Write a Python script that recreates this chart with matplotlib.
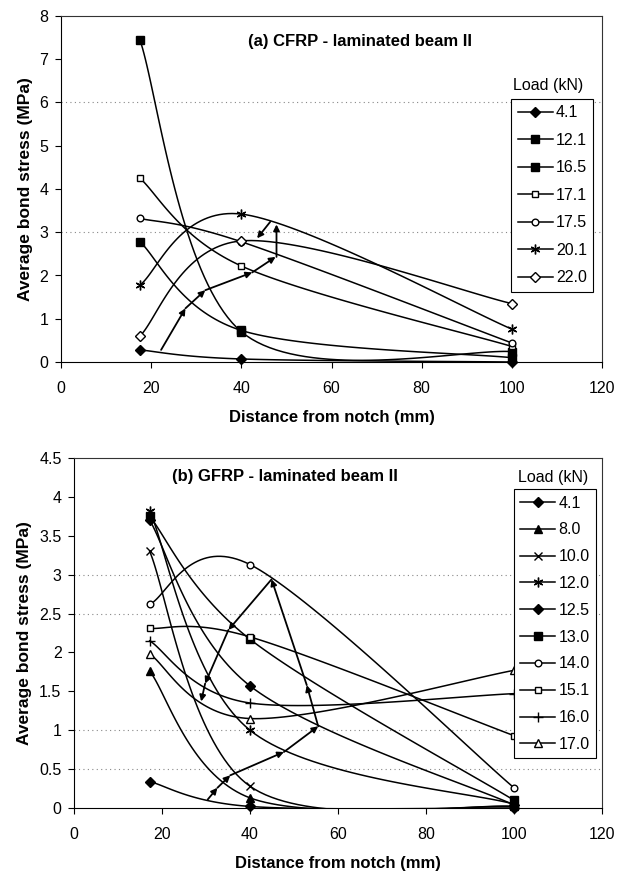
import numpy as np
import matplotlib
matplotlib.use('Agg')
import matplotlib.pyplot as plt
from matplotlib.lines import Line2D
from matplotlib.ticker import FuncFormatter, MultipleLocator

plt.rcParams['font.family'] = ['Liberation Sans', 'DejaVu Sans']

# ---------------- data: (a) CFRP ----------------
dist_a = [17.5, 40, 100]
loads_a = ['4.1', '12.1', '16.5', '17.1', '17.5', '20.1', '22.0']
a_4_1 = [0.28, 0.07, 0.00]
a_12_1 = [2.78, 0.73, 0.10]
a_16_5 = [7.45, 0.70, 0.24]
a_17_1 = [4.25, 2.22, 0.36]
a_17_5 = [3.32, 2.78, 0.44]
a_20_1 = [1.78, 3.42, 0.76]
a_22_0 = [0.60, 2.80, 1.35]
series_a = [a_4_1, a_12_1, a_16_5, a_17_1, a_17_5, a_20_1, a_22_0]

# trend arrows (a)
arrow_a_x = [22.2, 27.6, 32.0, 42.4, 47.6]
arrow_a_y = [0.28, 1.24, 1.66, 2.07, 2.43]
arrow_a_up_x = [47.8, 47.8]
arrow_a_up_y = [2.43, 3.18]
arrow_a_back_x = [46.4, 43.5]
arrow_a_back_y = [3.24, 2.86]

# ---------------- data: (b) GFRP ----------------
dist_b = [17.2, 40, 100]
loads_b = ['4.1', '8.0', '10.0', '12.0', '12.5', '13.0', '14.0', '15.1', '16.0', '17.0']
b_4_1 = [0.34, 0.02, 0.00]
b_8_0 = [1.76, 0.13, 0.02]
b_10_0 = [3.30, 0.28, 0.02]
b_12_0 = [3.82, 1.00, 0.05]
b_12_5 = [3.70, 1.57, 0.04]
b_13_0 = [3.75, 2.17, 0.10]
b_14_0 = [2.62, 3.13, 0.26]
b_15_1 = [2.31, 2.20, 0.93]
b_16_0 = [2.15, 1.35, 1.47]
b_17_0 = [1.98, 1.15, 1.77]
series_b = [b_4_1, b_8_0, b_10_0, b_12_0, b_12_5, b_13_0, b_14_0, b_15_1, b_16_0, b_17_0]

# trend arrows (b)
arrow_b_x = [30.4, 32.6, 35.5, 47.7, 55.5, 52.9, 44.9, 35.1, 29.8, 28.9]
arrow_b_y = [0.11, 0.26, 0.42, 0.72, 1.05, 1.58, 2.94, 2.29, 1.60, 1.37]

# ---------------- styles ----------------
ast = (6, 2, 0)
style_a = [('D', 'k', 5), ('s', 'k', 5.5), ('s', 'k', 5.5), ('s', 'w', 5),
           ('o', 'w', 4.8), (ast, 'k', 7), ('D', 'w', 5)]
style_b = [('D', 'k', 5), ('^', 'k', 6), ('x', 'k', 6), (ast, 'k', 7),
           ('D', 'k', 5), ('s', 'k', 5.5), ('o', 'w', 4.8), ('s', 'w', 5),
           ('+', 'k', 7), ('^', 'w', 6)]


def excel_smooth(x, y, n=40):
    P = np.column_stack([np.asarray(x, float), np.asarray(y, float)])
    m = len(P)
    out = []
    t = np.linspace(0, 1, n)[:, None]
    for i in range(m - 1):
        p0 = P[max(i - 1, 0)]
        p1 = P[i]
        p2 = P[i + 1]
        p3 = P[min(i + 2, m - 1)]
        c1 = p1 + (p2 - p0) / 6.0
        c2 = p2 - (p3 - p1) / 6.0
        seg = (1 - t) ** 3 * p1 + 3 * (1 - t) ** 2 * t * c1 + 3 * (1 - t) * t ** 2 * c2 + t ** 3 * p2
        out.append(seg if i == 0 else seg[1:])
    arr = np.vstack(out)
    return arr[:, 0], arr[:, 1]


LW = 1.1
fig = plt.figure(figsize=(6.27, 8.71), dpi=100)
W, H = 627.0, 871.0
ax1 = fig.add_axes([61 / W, 1 - 362 / H, 541 / W, 346 / H])
ax2 = fig.add_axes([74 / W, 1 - 808 / H, 528 / W, 350 / H])


def draw(ax, dist, series, labels, styles):
    handles = []
    for ys, lab, (mk, fc, ms) in zip(series, labels, styles):
        sx, sy = excel_smooth(dist, ys)
        ax.plot(sx, sy, color='k', lw=LW, zorder=3)
        ax.plot(dist, ys, ls='none', marker=mk, markerfacecolor=fc,
                markeredgecolor='k', markersize=ms, markeredgewidth=1.0,
                clip_on=False, zorder=4)
        handles.append(Line2D([0], [0], color='k', lw=LW, marker=mk,
                              markerfacecolor=fc, markeredgecolor='k',
                              markersize=ms, markeredgewidth=1.0, label=lab))
    return handles


def arrows(ax, xs, ys):
    for i in range(len(xs) - 1):
        ax.annotate('', xy=(xs[i + 1], ys[i + 1]), xytext=(xs[i], ys[i]),
                    arrowprops=dict(arrowstyle='-|>', lw=1.3, color='k',
                                    mutation_scale=9, shrinkA=0, shrinkB=0),
                    zorder=5)


def style_axes(ax, ymax, ystep, grid_levels):
    ax.set_xlim(0, 120)
    ax.set_ylim(0, ymax)
    ax.xaxis.set_major_locator(MultipleLocator(20))
    ax.yaxis.set_major_locator(MultipleLocator(ystep))
    ax.yaxis.set_major_formatter(FuncFormatter(lambda v, p: '%g' % v))
    ax.tick_params(direction='out', length=4, width=0.8, labelsize=11.5)
    ax.tick_params(axis='x', pad=9.5)
    ax.tick_params(axis='y', pad=5)
    for s in ax.spines.values():
        s.set_linewidth(0.8)
        s.set_color('#333333')
    ax.spines['left'].set_color('k')
    ax.spines['bottom'].set_color('k')
    for g in grid_levels:
        ax.axhline(g, color='#888888', lw=0.8, ls=(0, (1, 3)), zorder=1)
    ax.set_xlabel('Distance from notch (mm)', fontsize=12, fontweight='bold', labelpad=10)
    ax.set_ylabel('Average bond stress (MPa)', fontsize=12.5, fontweight='bold', labelpad=5)


# ---- (a)
style_axes(ax1, 8, 1, [3, 6])
h1 = draw(ax1, dist_a, series_a, loads_a, style_a)
arrows(ax1, arrow_a_x, arrow_a_y)
arrows(ax1, arrow_a_up_x, arrow_a_up_y)
arrows(ax1, arrow_a_back_x, arrow_a_back_y)
ax1.text(0.553, 0.925, '(a) CFRP - laminated beam II', transform=ax1.transAxes,
         ha='center', va='center', fontsize=12, fontweight='bold')
ax1.text(0.900, 0.80, 'Load (kN)', transform=ax1.transAxes, ha='center',
         va='center', fontsize=11.5)
leg1 = ax1.legend(handles=h1, loc='upper left', bbox_to_anchor=(0.832, 0.760),
                  borderaxespad=0, fontsize=11.5, frameon=True, fancybox=False,
                  edgecolor='k', framealpha=1, handlelength=2.2, handletextpad=0.2,
                  labelspacing=0.78, borderpad=0.4)
leg1.get_frame().set_linewidth(0.8)

# ---- (b)
style_axes(ax2, 4.5, 0.5, [0.5, 1, 2.5, 3])
h2 = draw(ax2, dist_b, series_b, loads_b, style_b)
arrows(ax2, arrow_b_x, arrow_b_y)
ax2.text(0.40, 0.947, '(b) GFRP - laminated beam II', transform=ax2.transAxes,
         ha='center', va='center', fontsize=12, fontweight='bold')
ax2.text(0.907, 0.945, 'Load (kN)', transform=ax2.transAxes, ha='center',
         va='center', fontsize=11.5)
leg2 = ax2.legend(handles=h2, loc='upper left', bbox_to_anchor=(0.833, 0.911),
                  borderaxespad=0, fontsize=11.5, frameon=True, fancybox=False,
                  edgecolor='k', framealpha=1, handlelength=2.2, handletextpad=0.2,
                  labelspacing=0.74, borderpad=0.4)
leg2.get_frame().set_linewidth(0.8)

fig.savefig('out.png', dpi=100)
